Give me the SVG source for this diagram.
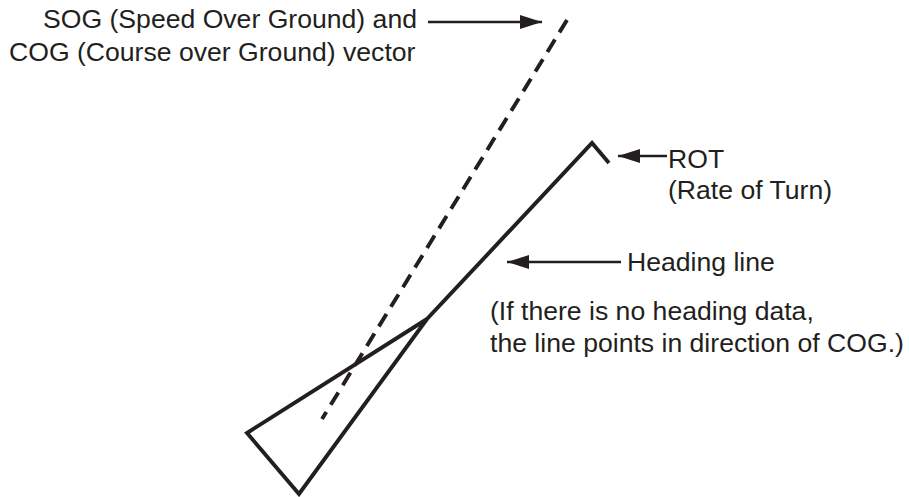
<svg xmlns="http://www.w3.org/2000/svg" width="909" height="497" viewBox="0 0 909 497">
<style>
text{font-family:"Liberation Sans",Arial,sans-serif;font-size:26.6px;fill:#231f20}
.l{fill:none;stroke:#231f20;stroke-width:3.9;stroke-linejoin:miter}
.a{fill:none;stroke:#231f20;stroke-width:2.6}
</style>
<defs><marker id="h" markerUnits="userSpaceOnUse" markerWidth="24" markerHeight="14" refX="22" refY="7" orient="auto"><path d="M0 0L22 7L0 14Z" fill="#231f20"/></marker></defs>
<g id="connectors">
<path class="a" d="M428 22H542" marker-end="url(#h)"/>
<path class="a" d="M667 156H618" marker-end="url(#h)"/>
<path class="a" d="M621 262H507" marker-end="url(#h)"/>
</g>
<g id="symbol">
<path class="l" d="M609 163L592 143L427 319L299 494L247 433L427 319"/>
<path class="l" stroke-dasharray="14.5 8.5" d="M567 20L322 419"/>
</g>
<g id="labels">
<text x="43" y="28">SOG (Speed Over Ground) and</text>
<text x="9" y="61">COG (Course over Ground) vector</text>
<text x="668" y="168">ROT</text>
<text x="668" y="199">(Rate of Turn)</text>
<text x="627" y="271">Heading line</text>
<text x="490" y="320">(If there is no heading data,</text>
<text x="490" y="352">the line points in direction of COG.)</text>
</g>
</svg>
